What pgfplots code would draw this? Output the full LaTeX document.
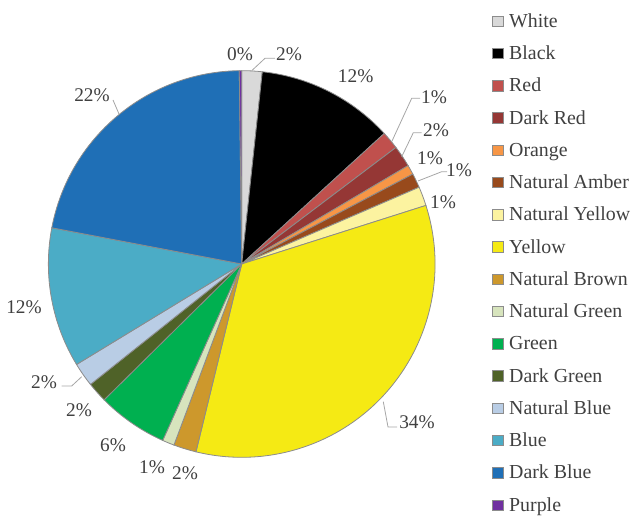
\documentclass[border=0pt]{standalone}
\usepackage{pgfplots}
\pgfplotsset{compat=1.18}
\usepackage{fontspec}
\setmainfont{Liberation Serif}

\definecolor{cWhite}{HTML}{D9D9D9}
\definecolor{cBlack}{HTML}{000000}
\definecolor{cRed}{HTML}{C0504D}
\definecolor{cDarkRed}{HTML}{953735}
\definecolor{cOrange}{HTML}{F79646}
\definecolor{cAmber}{HTML}{984A1C}
\definecolor{cNatYellow}{HTML}{FCF3A0}
\definecolor{cYellow}{HTML}{F5EA14}
\definecolor{cNatBrown}{HTML}{CD982C}
\definecolor{cNatGreen}{HTML}{D7E4BD}
\definecolor{cGreen}{HTML}{00B050}
\definecolor{cDarkGreen}{HTML}{4F6228}
\definecolor{cNatBlue}{HTML}{B9CDE5}
\definecolor{cBlue}{HTML}{4BACC6}
\definecolor{cDarkBlue}{HTML}{1F6FB6}
\definecolor{cPurple}{HTML}{7030A0}
\definecolor{cEdge}{HTML}{8C8C8C}
\definecolor{cLead}{HTML}{A6A6A6}
\definecolor{cText}{HTML}{404040}

\tikzset{lbl/.style={font=\fontsize{14.5}{17}\selectfont, text=cText, inner sep=0pt}}

% pie geometry, in axis units (1 unit = 0.75pt)
\def\R{145pt}
\def\cx{241.7}
\def\cy{254}
\def\cum{0}
\newcommand\slice[2]{% #1 = share in percent, #2 = colour
  \pgfmathsetmacro\sa{90-3.6*\cum}%
  \pgfmathsetmacro\sb{90-3.6*(\cum+#1)}%
  \edef\doslice{\noexpand\filldraw[fill=#2,draw=cEdge,line width=0.6pt]
    (axis cs:\cx,\cy) -- ++(\sa:\R) arc[start angle=\sa,end angle=\sb,radius=\R] -- cycle;}%
  \doslice
  \pgfmathsetmacro\cum{\cum+#1}%
  \global\let\cum\cum
}

\begin{document}
\begin{tikzpicture}
\begin{axis}[
  scale only axis, width=474.75pt, height=388.5pt,
  xmin=0, xmax=633, ymin=0, ymax=518,
  hide axis, clip=false,
  legend image code/.code={\draw[#1] (0pt,0.75pt) rectangle (7.8pt,8.6pt);},
  legend cell align=left,
  legend style={at={(axis cs:492,505)}, anchor=north west, draw=none, fill=none,
    inner sep=0pt, column sep=4.5pt, row sep=10.2pt,
    font=\fontsize{14.9}{17}\selectfont\color{cText},
    nodes={inner sep=0pt, text height=10.5pt, text depth=3.5pt, anchor=base west}},
]
\slice{1.7}{cWhite}
\slice{11.5}{cBlack}
\slice{1.5}{cRed}
\slice{1.8}{cDarkRed}
\slice{0.8}{cOrange}
\slice{1.2}{cAmber}
\slice{1.6}{cNatYellow}
\slice{33.7}{cYellow}
\slice{1.9}{cNatBrown}
\slice{1.0}{cNatGreen}
\slice{5.9}{cGreen}
\slice{1.7}{cDarkGreen}
\slice{2.0}{cNatBlue}
\slice{11.7}{cBlue}
\slice{21.8}{cDarkBlue}
\slice{0.2}{cPurple}

\addlegendimage{fill=cWhite,draw=cEdge}\addlegendentry{White}
\addlegendimage{fill=cBlack,draw=cEdge}\addlegendentry{Black}
\addlegendimage{fill=cRed,draw=cEdge}\addlegendentry{Red}
\addlegendimage{fill=cDarkRed,draw=cEdge}\addlegendentry{Dark Red}
\addlegendimage{fill=cOrange,draw=cEdge}\addlegendentry{Orange}
\addlegendimage{fill=cAmber,draw=cEdge}\addlegendentry{Natural Amber}
\addlegendimage{fill=cNatYellow,draw=cEdge}\addlegendentry{Natural Yellow}
\addlegendimage{fill=cYellow,draw=cEdge}\addlegendentry{Yellow}
\addlegendimage{fill=cNatBrown,draw=cEdge}\addlegendentry{Natural Brown}
\addlegendimage{fill=cNatGreen,draw=cEdge}\addlegendentry{Natural Green}
\addlegendimage{fill=cGreen,draw=cEdge}\addlegendentry{Green}
\addlegendimage{fill=cDarkGreen,draw=cEdge}\addlegendentry{Dark Green}
\addlegendimage{fill=cNatBlue,draw=cEdge}\addlegendentry{Natural Blue}
\addlegendimage{fill=cBlue,draw=cEdge}\addlegendentry{Blue}
\addlegendimage{fill=cDarkBlue,draw=cEdge}\addlegendentry{Dark Blue}
\addlegendimage{fill=cPurple,draw=cEdge}\addlegendentry{Purple}

% leader lines
\draw[cLead, line width=0.6pt] (axis cs:251.7,447.3) -- (axis cs:265,459.7) -- (axis cs:275,459.7);
\draw[cLead, line width=0.6pt] (axis cs:391.7,376.3) -- (axis cs:411.7,419.7) -- (axis cs:420,419.7);
\draw[cLead, line width=0.6pt] (axis cs:401.7,361.3) -- (axis cs:413.3,385.3) -- (axis cs:421.7,385.3);
\draw[cLead, line width=0.6pt] (axis cs:418,337) -- (axis cs:441.7,346.3) -- (axis cs:447,346.3);
\draw[cLead, line width=0.6pt] (axis cs:383.3,116.3) -- (axis cs:388,91) -- (axis cs:397,91);
\draw[cLead, line width=0.6pt] (axis cs:81.7,141.3) -- (axis cs:71.7,132) -- (axis cs:61.7,132);
\draw[cLead, line width=0.6pt] (axis cs:113,418) -- (axis cs:119,404);

% percentage labels
\node[lbl] at (axis cs:240,464) {0\%};
\node[lbl] at (axis cs:289,464) {2\%};
\node[lbl] at (axis cs:355.7,442) {12\%};
\node[lbl] at (axis cs:434,421) {1\%};
\node[lbl] at (axis cs:436,388) {2\%};
\node[lbl] at (axis cs:430,360) {1\%};
\node[lbl] at (axis cs:459,348) {1\%};
\node[lbl] at (axis cs:443,316) {1\%};
\node[lbl] at (axis cs:417,96) {34\%};
\node[lbl] at (axis cs:185,45) {2\%};
\node[lbl] at (axis cs:152,51) {1\%};
\node[lbl] at (axis cs:113,73) {6\%};
\node[lbl] at (axis cs:79,108) {2\%};
\node[lbl] at (axis cs:44,136) {2\%};
\node[lbl] at (axis cs:24,211) {12\%};
\node[lbl] at (axis cs:92,423) {22\%};
\end{axis}
\pgfresetboundingbox
\path (current axis.south west) rectangle (current axis.north east);
\end{tikzpicture}
\end{document}
